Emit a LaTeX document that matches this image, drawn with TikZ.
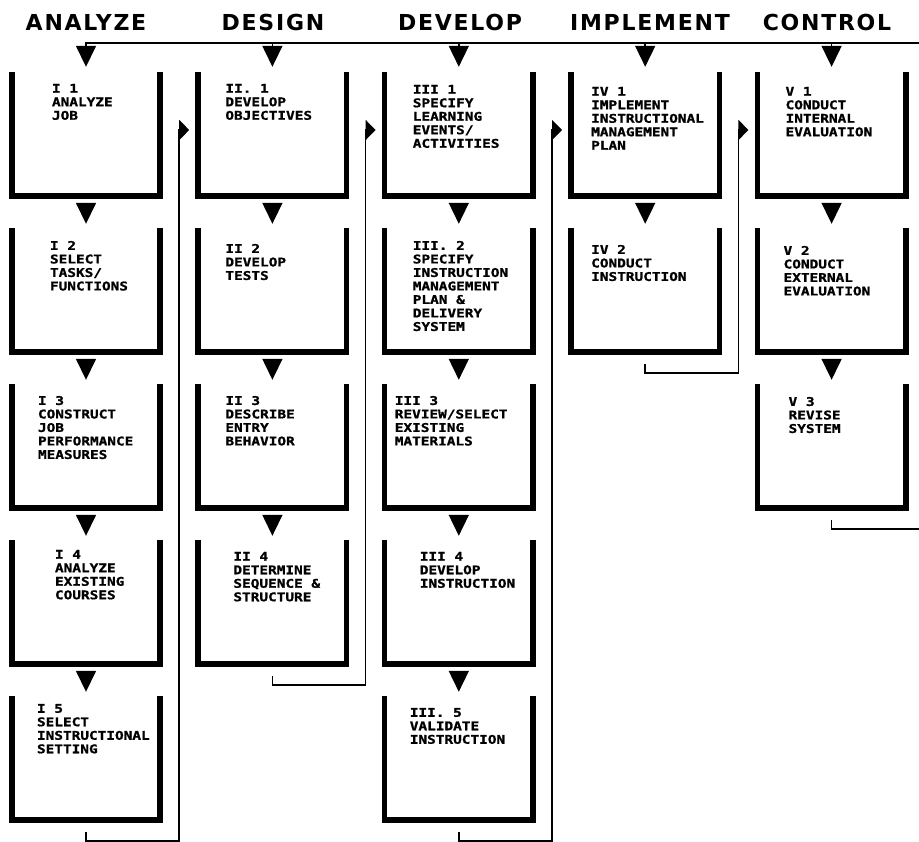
\documentclass[tikz,border=0pt]{standalone}
\usepackage{fontspec}
\usetikzlibrary{positioning,arrows.meta,calc}
\newfontfamily\headfont{DejaVu Sans}[LetterSpace=8]
\newfontfamily\stepfont{DejaVu Sans Mono}[FakeStretch=1.2,FakeBold=1.2]

\begin{document}
\begin{tikzpicture}[
  x=1pt,y=1pt,
  head/.style={font=\headfont\bfseries\fontsize{22}{26}\selectfont},
  stage/.style={minimum width=148pt,minimum height=124pt,inner sep=0pt},
  txt/.style={align=left,inner sep=0pt,font=\stepfont\bfseries\fontsize{12}{13.5}\selectfont},
  cup/.style={line width=5.5pt},
  flow/.style={line width=1.6pt,-{Triangle[width=20pt,length=21pt]}},
  back/.style={line width=1.6pt,-{Triangle[width=20pt,length=10pt]}}
]
  \useasboundingbox (0,0) rectangle (919,-842);

  % phase titles
  \node[head] (hana) at (86,-22)  {ANALYZE};
  \node[head] (hdes) at (273,-22) {DESIGN};
  \node[head] (hdev) at (460,-22) {DEVELOP};
  \node[head] (himp) at (650,-22) {IMPLEMENT};
  \node[head] (hcon) at (827,-22) {CONTROL};

  % analyze
  \node[stage] (a1) at (86,-134) {};
  \node[stage] (a2) at (86,-290) {};
  \node[stage] (a3) at (86,-446) {};
  \node[stage] (a4) at (86,-602) {};
  \node[stage] (a5) at (86,-758) {};

  % design
  \node[stage] (d1) at (272.4,-134) {};
  \node[stage] (d2) at (272.4,-290) {};
  \node[stage] (d3) at (272.4,-446) {};
  \node[stage] (d4) at (272.4,-602) {};

  % develop
  \node[stage] (v1) at (458.8,-134) {};
  \node[stage] (v2) at (458.8,-290) {};
  \node[stage] (v3) at (458.8,-446) {};
  \node[stage] (v4) at (458.8,-602) {};
  \node[stage] (v5) at (458.8,-758) {};

  % implement
  \node[stage] (i1) at (645.2,-134) {};
  \node[stage] (i2) at (645.2,-290) {};

  % control
  \node[stage] (c1) at (831.6,-134) {};
  \node[stage] (c2) at (831.6,-290) {};
  \node[stage] (c3) at (831.6,-446) {};

  % open boxes
  \foreach \n in {a1,a2,a3,a4,a5,d1,d2,d3,d4,v1,v2,v3,v4,v5,i1,i2,c1,c2,c3}
    \draw[cup] (\n.north west) |- (\n.south east) -- (\n.north east);

  % box texts
  \node[txt,below right=12pt and 40pt of a1.north west] (a1t) {I 1\\ANALYZE\\JOB};
  \node[txt,below right=13pt and 38pt of a2.north west] (a2t) {I 2\\SELECT\\TASKS/\\FUNCTIONS};
  \node[txt,below right=12pt and 26pt of a3.north west] (a3t) {I 3\\CONSTRUCT\\JOB\\PERFORMANCE\\MEASURES};
  \node[txt,below right=10pt and 43pt of a4.north west] (a4t) {I 4\\ANALYZE\\EXISTING\\COURSES};
  \node[txt,below right=8pt and 25pt of a5.north west] (a5t) {I 5\\SELECT\\INSTRUCTIONAL\\SETTING};

  \node[txt,below right=12pt and 27pt of d1.north west] (d1t) {II. 1\\DEVELOP\\OBJECTIVES};
  \node[txt,below right=16pt and 27pt of d2.north west] (d2t) {II 2\\DEVELOP\\TESTS};
  \node[txt,below right=12pt and 27pt of d3.north west] (d3t) {II 3\\DESCRIBE\\ENTRY\\BEHAVIOR};
  \node[txt,below right=12pt and 35pt of d4.north west] (d4t) {II 4\\DETERMINE\\SEQUENCE \&\\STRUCTURE};

  \node[txt,below right=13pt and 28pt of v1.north west] (v1t) {III 1\\SPECIFY\\LEARNING\\EVENTS/\\ACTIVITIES};
  \node[txt,below right=13pt and 28pt of v2.north west] (v2t) {III. 2\\SPECIFY\\INSTRUCTION\\MANAGEMENT\\PLAN \&\\DELIVERY\\SYSTEM};
  \node[txt,below right=12pt and 10pt of v3.north west] (v3t) {III 3\\REVIEW/SELECT\\EXISTING\\MATERIALS};
  \node[txt,below right=12pt and 35pt of v4.north west] (v4t) {III 4\\DEVELOP\\INSTRUCTION};
  \node[txt,below right=12pt and 25pt of v5.north west] (v5t) {III. 5\\VALIDATE\\INSTRUCTION};

  \node[txt,below right=15pt and 20pt of i1.north west] (i1t) {IV 1\\IMPLEMENT\\INSTRUCTIONAL\\MANAGEMENT\\PLAN};
  \node[txt,below right=17pt and 20pt of i2.north west] (i2t) {IV 2\\CONDUCT\\INSTRUCTION};

  \node[txt,below right=15pt and 28pt of c1.north west] (c1t) {V 1\\CONDUCT\\INTERNAL\\EVALUATION};
  \node[txt,below right=18pt and 26pt of c2.north west] (c2t) {V 2\\CONDUCT\\EXTERNAL\\EVALUATION};
  \node[txt,below right=13pt and 31pt of c3.north west] (c3t) {V 3\\REVISE\\SYSTEM};

  % steps within a phase
  \draw[flow,shorten <=7pt,shorten >=4pt] (a1) -- (a2);
  \draw[flow,shorten <=7pt,shorten >=4pt] (a2) -- (a3);
  \draw[flow,shorten <=7pt,shorten >=4pt] (a3) -- (a4);
  \draw[flow,shorten <=7pt,shorten >=4pt] (a4) -- (a5);
  \draw[flow,shorten <=7pt,shorten >=4pt] (d1) -- (d2);
  \draw[flow,shorten <=7pt,shorten >=4pt] (d2) -- (d3);
  \draw[flow,shorten <=7pt,shorten >=4pt] (d3) -- (d4);
  \draw[flow,shorten <=7pt,shorten >=4pt] (v1) -- (v2);
  \draw[flow,shorten <=7pt,shorten >=4pt] (v2) -- (v3);
  \draw[flow,shorten <=7pt,shorten >=4pt] (v3) -- (v4);
  \draw[flow,shorten <=7pt,shorten >=4pt] (v4) -- (v5);
  \draw[flow,shorten <=7pt,shorten >=4pt] (i1) -- (i2);
  \draw[flow,shorten <=7pt,shorten >=4pt] (c1) -- (c2);
  \draw[flow,shorten <=7pt,shorten >=4pt] (c2) -- (c3);

  % top loop line
  \coordinate (loop) at (919,-43);
  \draw[flow,shorten >=5pt] (loop) -| (a1);
  \draw[flow,shorten >=5pt] (d1 |- loop) -- (d1);
  \draw[flow,shorten >=5pt] (v1 |- loop) -- (v1);
  \draw[flow,shorten >=5pt] (i1 |- loop) -- (i1);
  \draw[flow,shorten >=5pt] (c1 |- loop) -- (c1);

  % hand-over to the next phase
  \draw[back,shorten <=12pt,shorten >=9pt] (a5.south) -- ++(0,-21pt)
    -| ($(a1.east)!.5!(d1.west)+(0,4pt)$) -- ([yshift=4pt]d1.west);
  \draw[back,shorten <=12pt,shorten >=9pt] (d4.south) -- ++(0,-21pt)
    -| ($(d1.east)!.5!(v1.west)+(0,4pt)$) -- ([yshift=4pt]v1.west);
  \draw[back,shorten <=12pt,shorten >=9pt] (v5.south) -- ++(0,-21pt)
    -| ($(v1.east)!.5!(i1.west)+(0,4pt)$) -- ([yshift=4pt]i1.west);
  \draw[back,shorten <=12pt,shorten >=9pt] (i2.south) -- ++(0,-21pt)
    -| ($(i1.east)!.5!(c1.west)+(0,4pt)$) -- ([yshift=4pt]c1.west);
  \coordinate (exit) at (919,-529);
  \draw[line width=1.6pt,shorten <=12pt] (c3.south) |- (exit);
\end{tikzpicture}
\end{document}
